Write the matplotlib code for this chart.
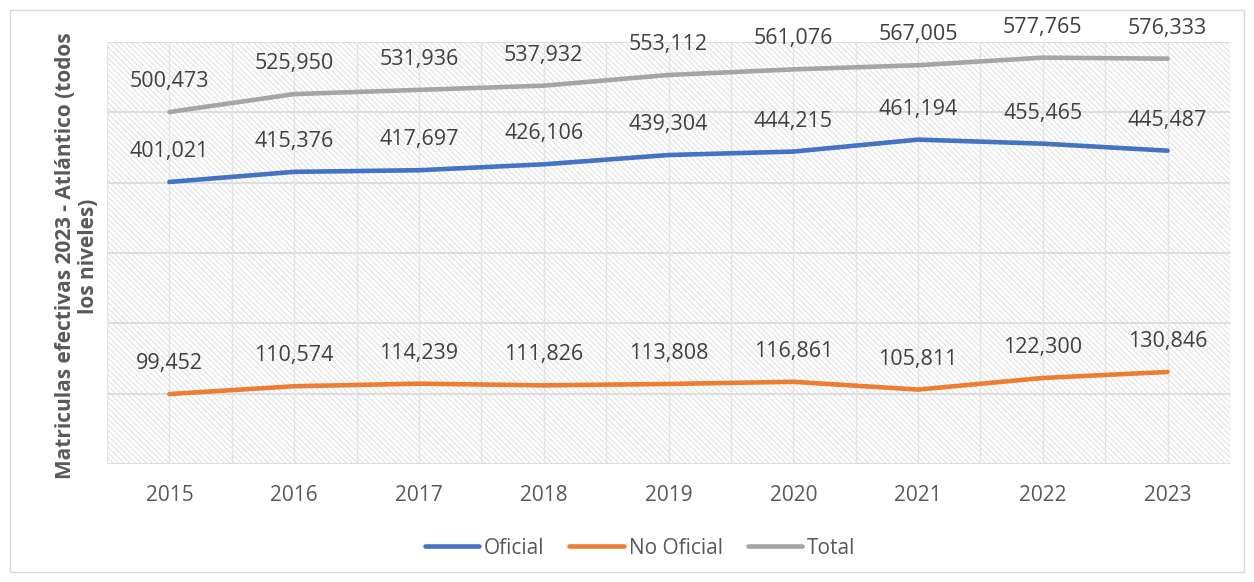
import matplotlib
matplotlib.use("Agg")
import matplotlib.pyplot as plt
from matplotlib.patches import Rectangle
import numpy as np

years = ["2015", "2016", "2017", "2018", "2019", "2020", "2021", "2022", "2023"]
oficial = [401021, 415376, 417697, 426106, 439304, 444215, 461194, 455465, 445487]
no_oficial = [99452, 110574, 114239, 111826, 113808, 116861, 105811, 122300, 130846]
total = [500473, 525950, 531936, 537932, 553112, 561076, 567005, 577765, 576333]

series_names = ["Oficial", "No Oficial", "Total"]
colors = ["#4472C4", "#ED7D31", "#A5A5A5"]
ylabel = "Matriculas efectivas 2023 - Atlántico (todos\nlos niveles)"

plt.rcParams['font.family'] = ['Open Sans', 'DejaVu Sans']
plt.rcParams['hatch.color'] = '#d9d9d9'
plt.rcParams['hatch.linewidth'] = 0.6

W, H = 1254, 582
fig = plt.figure(figsize=(W / 100, H / 100), dpi=100)
fig.patch.set_facecolor("white")

# outer border
fig.add_artist(Rectangle((10 / W, 1 - 572 / H), 1234 / W, 562 / H, transform=fig.transFigure,
                         fill=False, edgecolor="#d9d9d9", linewidth=1.0))

ax = fig.add_axes([107 / W, 1 - 464 / H, (1230 - 107) / W, (464 - 42) / H])
ax.set_facecolor("white")
ax.patch.set_hatch("\\\\\\\\\\\\")
ax.patch.set_edgecolor("#d9d9d9")
ax.patch.set_linewidth(0)

x = np.arange(len(years))
ax.set_xlim(-0.5, len(years) - 0.5)
ax.set_ylim(0, 600000)

# gridlines
for yv in range(0, 600001, 100000):
    ax.axhline(yv, color="#d9d9d9", linewidth=1.2, zorder=1)
for xv in np.arange(-0.5, len(years), 0.5):
    ax.axvline(xv, color="#e3e3e3", linewidth=1.0, zorder=1)

for vals, name, c in zip([oficial, no_oficial, total], series_names, colors):
    ax.plot(x, vals, color=c, linewidth=3.3, label=name, solid_capstyle="round", zorder=3)
    for xi, v in zip(x, vals):
        ax.annotate(f"{v:,}", (xi, v), xytext=(0, 22), textcoords="offset points",
                    ha="center", va="center", fontsize=15.5, color="#404040", zorder=4,
                    annotation_clip=False)

for s in ax.spines.values():
    s.set_visible(False)
ax.set_yticks([])
ax.set_xticks(x)
ax.set_xticklabels(years, fontsize=15, color="#595959")
ax.tick_params(axis="x", length=0, pad=15)

fig.text(77 / W, 1 - 256 / H, ylabel, rotation=90, ha="center", va="center", ma="center",
         fontsize=15, fontweight="bold", color="#595959", linespacing=1.15)

fig.legend(loc="center", bbox_to_anchor=(640 / W, 1 - 548 / H), ncol=3, frameon=False,
           fontsize=15, labelcolor="#595959", handlelength=2.6, handletextpad=0.25,
           columnspacing=1.2)

fig.savefig("out.png", dpi=100, facecolor="white")
